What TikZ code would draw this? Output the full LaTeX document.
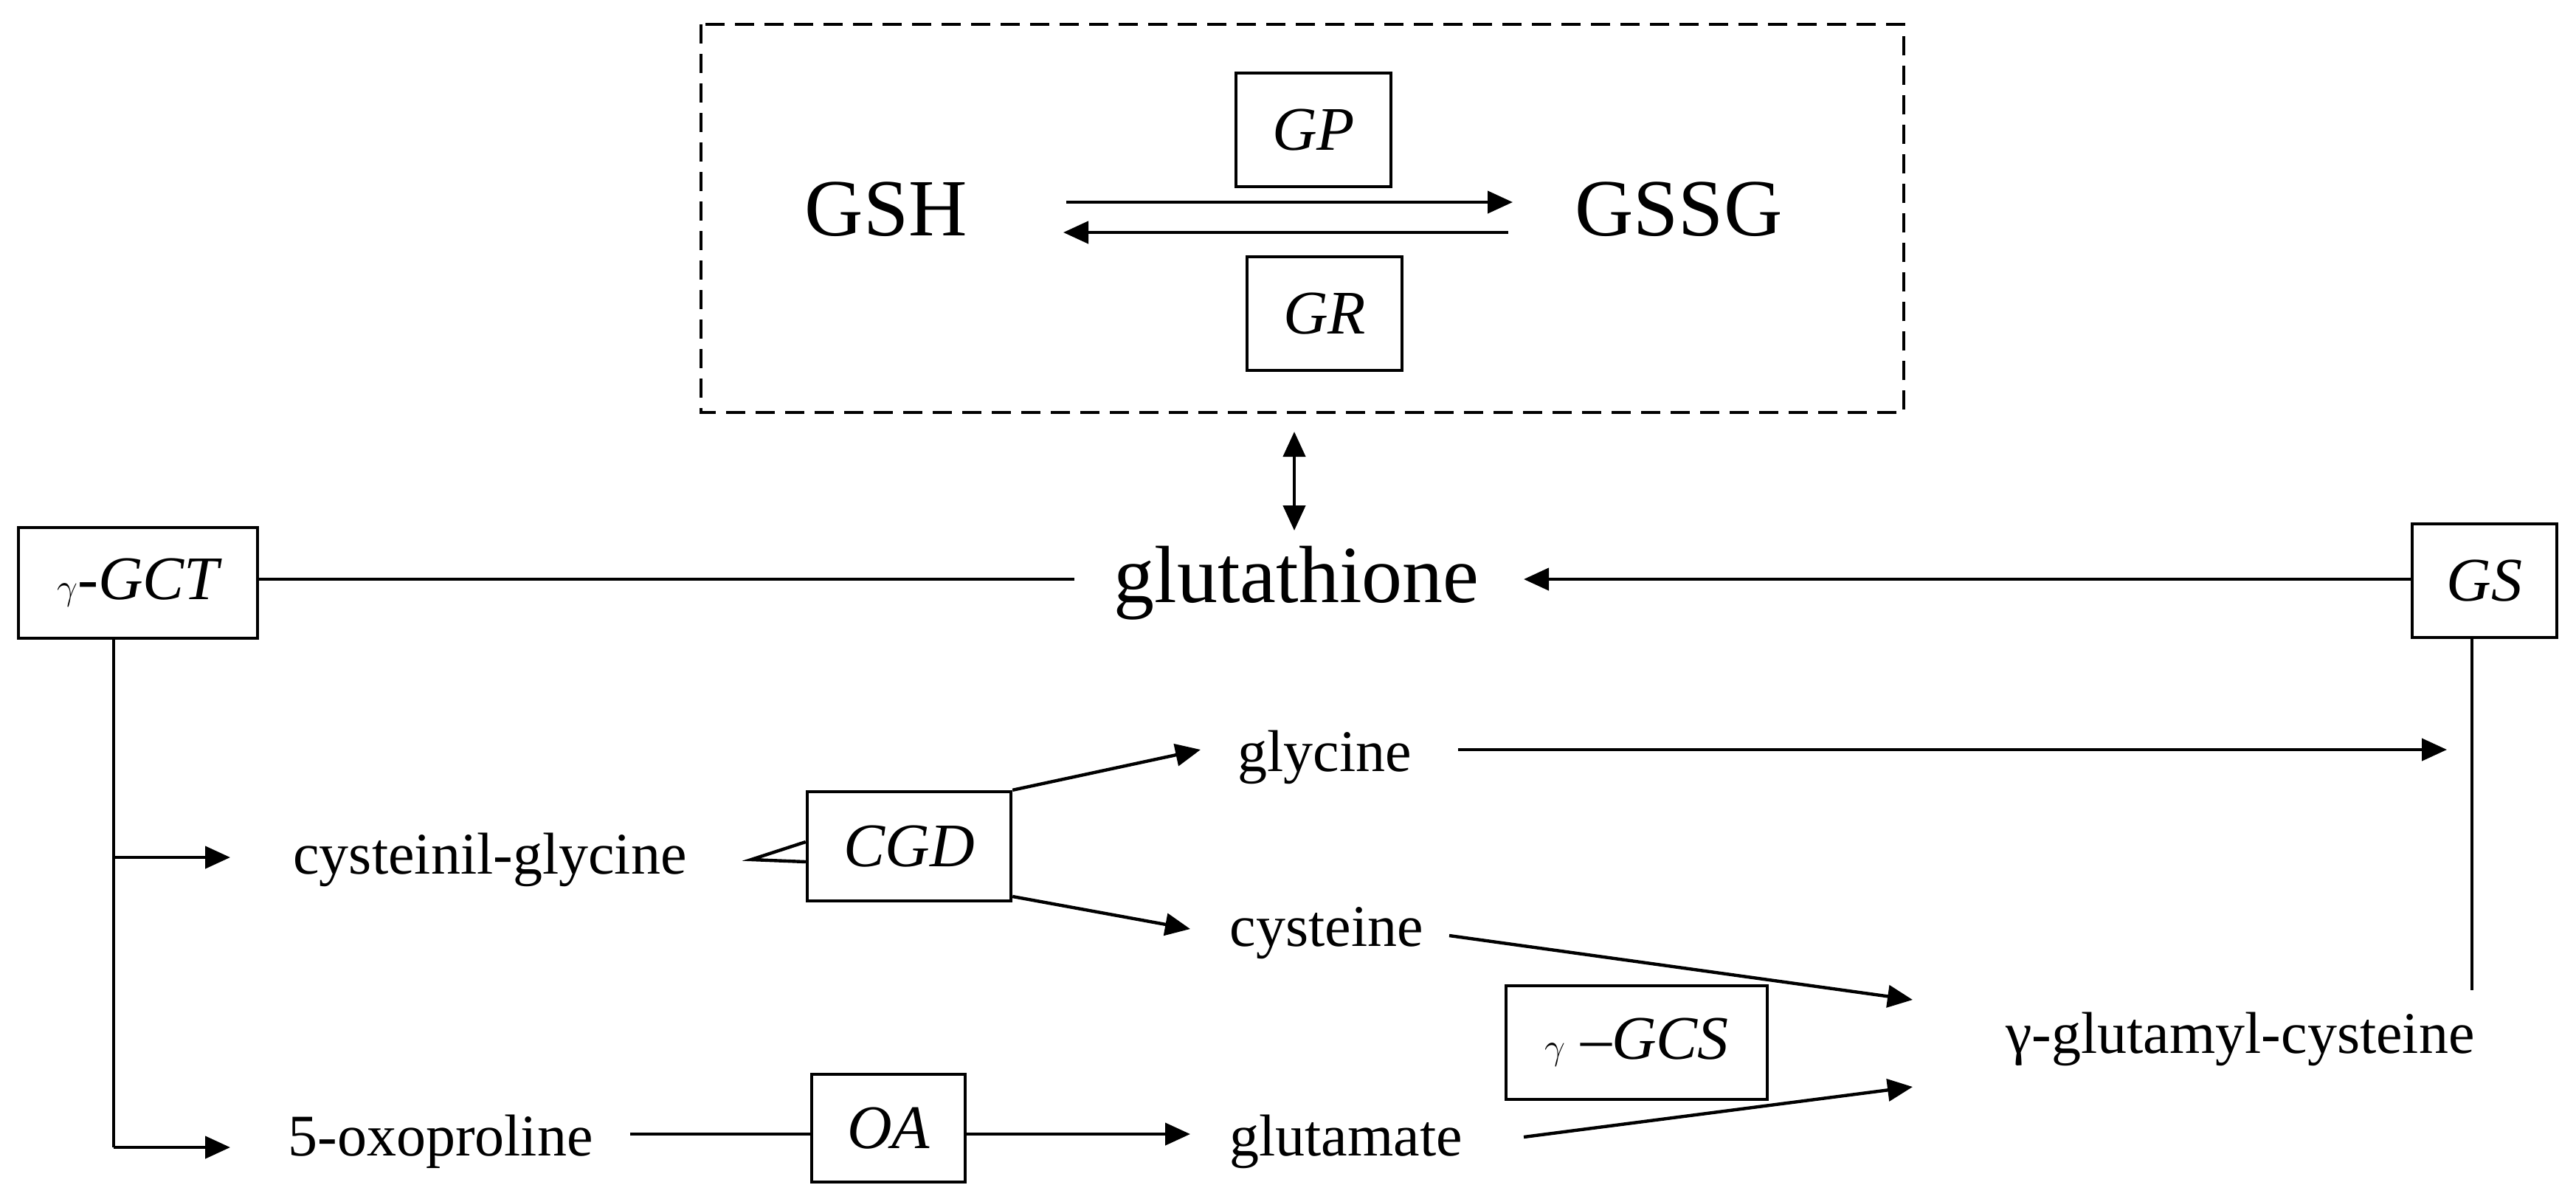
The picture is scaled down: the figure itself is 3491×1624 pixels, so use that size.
\documentclass[tikz,border=0pt]{standalone}
\usepackage{fontspec}
\setmainfont{Liberation Serif}
\usetikzlibrary{arrows.meta}
\begin{document}
\begin{tikzpicture}[x=0.5pt,y=-0.5pt,
  ln/.style={line width=2.2pt},
  ar/.style={ln,-{Triangle[length=17pt,width=15pt]}},
  big/.style={inner sep=0pt,font=\fontsize{55}{60}\selectfont},
  sm/.style={inner sep=0pt,font=\fontsize{40}{44}\selectfont},
  enz/.style={draw,line width=2.2pt,inner sep=0pt,font=\fontsize{42}{46}\selectfont\itshape}]
\useasboundingbox (0,0) rectangle (3491,1624);
\draw[line width=2.2pt,dash pattern=on 13pt off 7pt] (950,33) rectangle (2580,559);
\node[big] (gsh) at (1201,284) {GSH};
\node[big] (gssg) at (2275,284) {GSSG};
\node[enz,minimum width=105pt,minimum height=77pt] (gp) at (1780,176) {GP};
\node[enz,minimum width=105pt,minimum height=77pt] (gr) at (1795,425) {GR};
\coordinate (t1) at (1445,274); \coordinate (t2) at (2050,274);
\coordinate (b1) at (2044,315); \coordinate (b2) at (1441,315);
\draw[ar] (t1) -- (t2);
\draw[ar] (b1) -- (b2);
\coordinate (d1) at (1754,585); \coordinate (d2) at (1754,719);
\draw[ln,{Triangle[length=17pt,width=15pt]}-{Triangle[length=17pt,width=15pt]}] (d1) -- (d2);
\node[big] (glu) at (1757,790) {glutathione};
\node[enz,minimum width=162pt,minimum height=75pt] (gct) at (187,790) {$\gamma$-GCT};
\node[enz,minimum width=98pt,minimum height=77pt] (gs) at (3367,787) {GS};
\coordinate (g1) at (1456,785);
\draw[ln] (gct.east |- g1) -- (g1);
\coordinate (g2) at (2065,785);
\draw[ar] (gs.west |- g2) -- (g2);
\node[sm] (cg) at (664,1165) {cysteinil-glycine};
\node[enz,minimum width=138pt,minimum height=74pt] (cgd) at (1232,1147) {CGD};
\node[sm] (oxo) at (597,1547) {5-oxoproline};
\node[enz,minimum width=104pt,minimum height=73pt] (oa) at (1204,1529) {OA};
\node[sm] (gly) at (1795,1026) {glycine};
\node[sm] (cys) at (1798,1265) {cysteine};
\node[sm] (glm) at (1824,1547) {glutamate};
\node[enz,minimum width=177pt,minimum height=77pt] (gcs) at (2218,1413) {$\gamma$ –GCS};
\node[sm] (gglc) at (3036,1408) {γ-glutamyl-cysteine};
% gamma-GCT branches
\coordinate (v1) at (154,1162); \coordinate (v2) at (154,1555);
\coordinate (a1) at (312,1162); \coordinate (a2) at (312,1555);
\draw[ln] (gct.south -| v1) -- (v2);
\draw[ar] (v1) -- (a1);
\draw[ar] (v2) -- (a2);
% CGD
\coordinate (lt) at (1018,1165);
\draw[ln] (cgd.west |- 0,1141) -- (lt) -- (cgd.west |- 0,1168);
\coordinate (gy1) at (1627,1016); \coordinate (cy1) at (1613,1259);
\draw[ar] (cgd.north east) -- (gy1);
\draw[ar] (cgd.south east |- 0,1215) -- (cy1);
% OA
\coordinate (o1) at (854,1537); \coordinate (o2) at (1613,1537);
\draw[ln] (o1) -- (oa.west |- o1);
\draw[ar] (oa.east |- o1) -- (o2);
% glycine to GS line
\coordinate (gy2) at (1976,1016); \coordinate (gy3) at (3316,1016);
\draw[ar] (gy2) -- (gy3);
\coordinate (gsl) at (3350,1342);
\draw[ln] (gs.south -| gsl) -- (gsl);
% to gamma-glutamyl-cysteine
\coordinate (c1) at (1964,1268); \coordinate (c2) at (2592,1355);
\coordinate (m1) at (2065,1541); \coordinate (m2) at (2592,1473);
\draw[ar] (c1) -- (c2);
\draw[ar] (m1) -- (m2);
\end{tikzpicture}
\end{document}
